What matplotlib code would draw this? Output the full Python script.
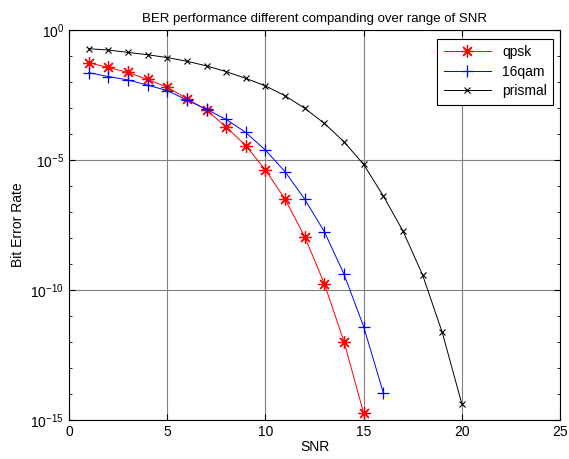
import numpy as np
import matplotlib
matplotlib.use('Agg')
import matplotlib.pyplot as plt
from matplotlib.ticker import FixedLocator, LogFormatterMathtext

plt.rcParams['font.family'] = ['Liberation Sans', 'DejaVu Sans']

# data (log10 of BER)
snr_qpsk = list(range(1, 16))
log_ber_qpsk = [-1.26, -1.44, -1.63, -1.90, -2.20, -2.64, -3.08, -3.73,
                -4.45, -5.38, -6.51, -7.95, -9.76, -11.99, -14.74]

snr_16qam = list(range(1, 17))
log_ber_16qam = [-1.64, -1.79, -1.92, -2.12, -2.33, -2.69, -3.05, -3.44,
                 -3.94, -4.62, -5.45, -6.51, -7.76, -9.39, -11.41, -13.95]

snr_prismal = list(range(1, 21))
log_ber_prismal = [-0.72, -0.77, -0.86, -0.95, -1.06, -1.20, -1.38, -1.60,
                   -1.86, -2.15, -2.53, -3.01, -3.59, -4.30, -5.17, -6.38,
                   -7.73, -9.42, -11.63, -14.38]

ber_qpsk = 10.0 ** np.array(log_ber_qpsk)
ber_16qam = 10.0 ** np.array(log_ber_16qam)
ber_prismal = 10.0 ** np.array(log_ber_prismal)

fig = plt.figure(figsize=(5.69, 4.59), dpi=100)
ax = fig.add_axes([0.1213, 0.085, 0.863, 0.8496])

# matlab style asterisk marker
ax.semilogy(snr_qpsk, ber_qpsk, color='red', marker=(8, 2, 0), markersize=9,
            markeredgewidth=0.9, linewidth=0.7, label='qpsk')
ax.semilogy(snr_16qam, ber_16qam, color='blue', marker='+', markersize=9,
            markeredgewidth=0.9, linewidth=0.7, label='16qam')
ax.semilogy(snr_prismal, ber_prismal, color='black', marker='x', markersize=4,
            markeredgewidth=0.8, linewidth=0.7, label='prismal')

ax.set_xlim(0, 25)
ax.set_ylim(1e-15, 1e0)
ax.set_xticks([0, 5, 10, 15, 20, 25])
ax.yaxis.set_major_locator(FixedLocator([1e-15, 1e-10, 1e-5, 1e0]))
ax.yaxis.set_major_formatter(LogFormatterMathtext())
ax.yaxis.set_minor_locator(FixedLocator([10.0 ** k for k in range(-15, 1)]))
ax.yaxis.set_minor_formatter(plt.NullFormatter())

ax.grid(True, which='major', color='#808080', linewidth=0.8, linestyle='-')
ax.tick_params(direction='in', top=True, right=True, labelsize=10, length=4)
ax.tick_params(which='minor', direction='in', right=True, length=2)
for s in ax.spines.values():
    s.set_linewidth(0.8)

ax.set_title('BER performance different companding over range of SNR', fontsize=9.5, pad=6)
ax.set_xlabel('SNR', fontsize=10, labelpad=1)
ax.set_ylabel('Bit Error Rate', fontsize=10)

leg = ax.legend(loc='upper right', bbox_to_anchor=(1.0, 0.995), fontsize=10,
                fancybox=False, framealpha=1, edgecolor='black',
                handlelength=3.4, borderpad=0.45, labelspacing=0.4)
leg.get_frame().set_linewidth(0.8)

fig.savefig('out.png', dpi=100)
